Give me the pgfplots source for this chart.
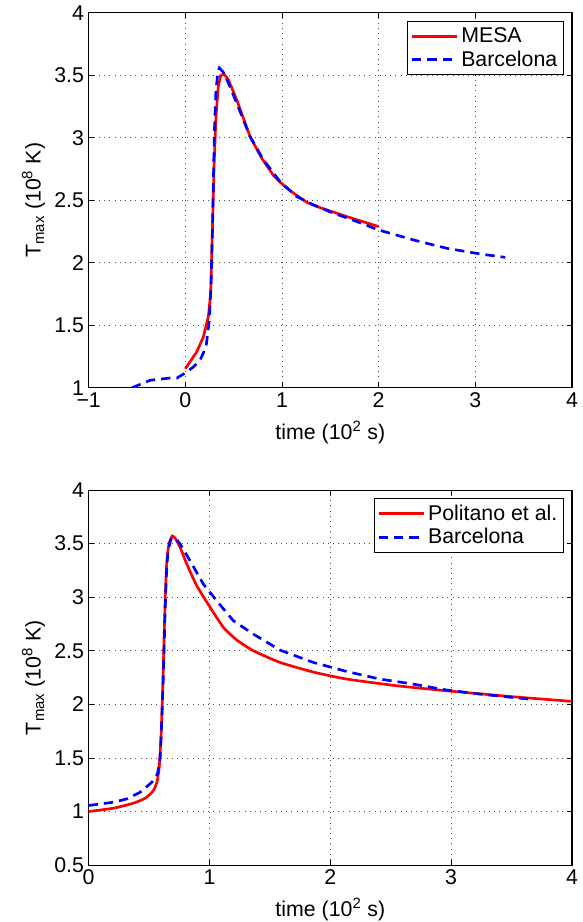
\documentclass[border=0pt]{standalone}
\usepackage{fontspec}
\setmainfont{Liberation Sans}
\usepackage{pgfplots}
\pgfplotsset{compat=1.18}
\definecolor{mred}{rgb}{1,0,0}
\definecolor{mblue}{rgb}{0,0,1}
\newcommand{\bigf}{\fontsize{16}{19}\selectfont}
\pgfplotsset{
  myaxis/.style={
    scale only axis, width=362.5pt, height=281.25pt,
    font=\bigf,
    tick label style={font=\bigf},
    label style={font=\bigf},
    grid=major,
    major grid style={black!70, line width=0.5pt, dash pattern=on 0.7pt off 3.2pt},
    tick align=inside, major tick length=4pt,
    axis line style={line width=0.8pt},
    tick style={black, line width=0.6pt},
    /pgf/number format/assume math mode=true,
    xtick pos=both, ytick pos=both,
    ylabel={T\textsubscript{max} (10\textsuperscript{8} K)},
    xlabel={time (10\textsuperscript{2} s)},
    xlabel style={yshift=-3pt},
    legend cell align=left,
    legend image code/.code={\draw[##1] (0pt,0pt) -- (34pt,0pt);},
    legend style={draw=black, line width=0.7pt, fill=white, at={(0.983,0.979)}, anchor=north east,
      font=\bigf, inner xsep=2.5pt, inner ysep=3pt, row sep=0.5pt},
  },
  red/.style={mred, line width=2pt, solid},
  blue/.style={mblue, line width=2pt, dash pattern=on 7pt off 4.5pt},
}
\begin{document}
\begin{tikzpicture}
\useasboundingbox (-66.5pt,290.8pt) rectangle (370.7pt,-400.7pt);
\begin{axis}[myaxis,
  xmin=-1, xmax=4, ymin=1, ymax=4,
  xtick={-1,0,1,2,3,4}, xticklabels={−1,0,1,2,3,4},
  ytick={1,1.5,2,2.5,3,3.5,4}, yticklabels={1,1.5,2,2.5,3,3.5,4},
]
\addplot[red] coordinates {
(0,1.152) (0.117,1.286) (0.186,1.406) (0.238,1.567) (0.262,1.754) (0.279,2.235)
(0.297,2.77) (0.317,3.17) (0.341,3.41) (0.366,3.497) (0.4,3.51) (0.445,3.465)
(0.531,3.305) (0.669,3.01) (0.79,2.837) (0.91,2.70) (1.017,2.618) (1.12,2.556)
(1.255,2.484) (1.397,2.44) (1.672,2.369) (2.0,2.289)};
\addlegendentry{MESA}
\addplot[blue] coordinates {
(-0.552,1.0) (-0.362,1.06) (-0.155,1.078) (-0.086,1.078) (0,1.118) (0.083,1.166)
(0.152,1.22) (0.214,1.326) (0.248,1.54) (0.266,1.834) (0.28,2.235) (0.29,2.636)
(0.3,3.037) (0.317,3.385) (0.338,3.53) (0.352,3.559) (0.393,3.524) (0.445,3.439)
(0.531,3.278) (0.669,3.01) (0.807,2.824) (0.979,2.65) (1.152,2.529) (1.324,2.463)
(1.5,2.406) (1.776,2.329) (2.0,2.262) (2.362,2.182) (2.707,2.115) (3.052,2.07) (3.31,2.043)};
\addlegendentry{Barcelona}
\end{axis}
\begin{axis}[myaxis, at={(0pt,-358pt)},
  xmin=0, xmax=4, ymin=0.5, ymax=4,
  xtick={0,1,2,3,4}, xticklabels={0,1,2,3,4},
  ytick={0.5,1,1.5,2,2.5,3,3.5,4}, yticklabels={0.5,1,1.5,2,2.5,3,3.5,4},
]
\addplot[red, smooth, tension=0.3] coordinates {
(0,1.0) (0.207,1.031) (0.372,1.078) (0.468,1.124) (0.532,1.189) (0.565,1.273)
(0.584,1.413) (0.6,1.724) (0.614,2.19) (0.625,2.655) (0.636,3.06) (0.647,3.338)
(0.664,3.494) (0.691,3.571) (0.716,3.55) (0.758,3.463) (0.813,3.307) (0.895,3.106)
(1.006,2.904) (1.116,2.717) (1.226,2.6) (1.364,2.5) (1.584,2.391) (1.86,2.301)
(2.135,2.236) (2.548,2.174) (2.961,2.127) (3.512,2.071) (4.0,2.028)};
\addlegendentry{Politano et al.}
\addplot[blue] coordinates {
(0,1.056) (0.207,1.087) (0.317,1.118) (0.427,1.18) (0.523,1.273) (0.57,1.351)
(0.592,1.506) (0.606,1.879) (0.62,2.345) (0.631,2.81) (0.642,3.183) (0.656,3.432)
(0.68,3.54) (0.716,3.556) (0.758,3.494) (0.84,3.339) (0.95,3.121) (1.06,2.966)
(1.198,2.78) (1.364,2.655) (1.584,2.506) (1.86,2.391) (2.135,2.307) (2.41,2.236)
(2.686,2.189) (2.961,2.134) (3.237,2.096) (3.636,2.05)};
\addlegendentry{Barcelona}
\end{axis}
\end{tikzpicture}
\end{document}
